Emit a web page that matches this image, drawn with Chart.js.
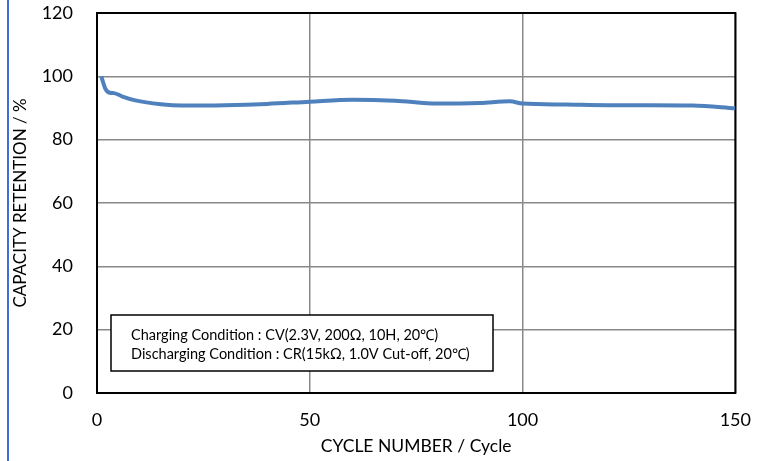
<!DOCTYPE html>
<html>
<head>
<meta charset="utf-8">
<script src="https://cdn.jsdelivr.net/npm/chart.js@4.4.1/dist/chart.umd.min.js"></script>
<style>
html,body{margin:0;padding:0;background:#fff;}
#wrap{width:767px;height:461px;position:relative;}
</style>
</head>
<body>
<div id="wrap"><canvas id="c" width="767" height="461"></canvas></div>
<script>
const cycles = [1, 2, 3, 4, 6, 9, 15, 20, 30, 40, 50, 60, 70, 80, 90, 97, 100, 110, 120, 130, 140, 150];
const retention = [100, 96.0, 94.8, 94.7, 93.6, 92.4, 91.2, 90.8, 90.9, 91.3, 92.0, 92.6, 92.3, 91.4, 91.6, 92.1, 91.4, 91.1, 90.9, 90.9, 90.8, 89.9];
const xTicks = [0, 50, 100, 150];
const yTicks = [0, 20, 40, 60, 80, 100, 120];
const xTitle = 'CYCLE NUMBER / Cycle';
const yTitle = 'CAPACITY RETENTION / %';
const noteLines = [
  'Charging Condition : CV(2.3V, 200Ω, 10H, 20℃)',
  'Discharging Condition : CR(15kΩ, 1.0V Cut-off, 20℃)'
];

const FONT = 'Lato, "Open Sans", sans-serif';

const frame = {
  id: 'frame',
  beforeDraw(chart) {
    const ctx = chart.ctx;
    ctx.save();
    ctx.fillStyle = '#fff';
    ctx.fillRect(0, 0, chart.width, chart.height);
    ctx.strokeStyle = '#3D6FD9';
    ctx.lineWidth = 2;
    ctx.beginPath();
    ctx.moveTo(8, 0); ctx.lineTo(8, chart.height);
    ctx.stroke();
    ctx.restore();
  },
  beforeDatasetsDraw(chart) {
    const a = chart.chartArea, ctx = chart.ctx;
    ctx.save();
    ctx.strokeStyle = '#000';
    ctx.lineWidth = 2;
    ctx.strokeRect(a.left, a.top, a.right - a.left, a.bottom - a.top);
    ctx.restore();
  },
  afterDatasetsDraw(chart) {
    const a = chart.chartArea, ctx = chart.ctx;
    const bx = a.left + 14, by = a.bottom - 78, bw = 382, bh = 56;
    ctx.save();
    ctx.fillStyle = '#fff';
    ctx.fillRect(bx, by, bw, bh);
    ctx.strokeStyle = '#000';
    ctx.lineWidth = 1.5;
    ctx.strokeRect(bx, by, bw, bh);
    ctx.fillStyle = '#000';
    ctx.font = '14.5px ' + FONT;
    ctx.textBaseline = 'middle';
    ctx.textAlign = 'left';
    ctx.fillText(noteLines[0], bx + 20, by + 20);
    ctx.fillText(noteLines[1], bx + 20, by + 39);
    ctx.restore();
  }
};

new Chart(document.getElementById('c'), {
  type: 'line',
  data: {
    datasets: [{
      data: cycles.map((c, i) => ({x: c, y: retention[i]})),
      borderColor: '#4F81BD',
      borderWidth: 4,
      pointRadius: 0,
      tension: 0.4,
      cubicInterpolationMode: 'monotone',
      fill: false
    }]
  },
  options: {
    responsive: false,
    animation: false,
    devicePixelRatio: 1,
    layout: {autoPadding: false, padding: {left: 0, top: 13, right: 31, bottom: 0}},
    plugins: {legend: {display: false}, tooltip: {enabled: false}},
    scales: {
      x: {
        type: 'linear', min: 0, max: 150,
        afterBuildTicks(s) { s.ticks = xTicks.map(v => ({value: v})); },
        afterFit(s) { s.height = 68; },
        grid: {color: '#898989', lineWidth: 1.5, drawTicks: false},
        border: {display: false},
        ticks: {color: '#000', font: {family: FONT, size: 18}, padding: 16, maxRotation: 0},
        title: {display: true, text: xTitle, color: '#000', font: {family: FONT, size: 17.5}, padding: {top: 0, bottom: 4}}
      },
      y: {
        min: 0, max: 120,
        afterBuildTicks(s) { s.ticks = yTicks.map(v => ({value: v})); },
        afterFit(s) { s.width = 97; },
        grid: {color: '#898989', lineWidth: 1.5, drawTicks: true, tickLength: 24, tickColor: 'rgba(0,0,0,0)'},
        border: {display: false},
        ticks: {color: '#000', font: {family: FONT, size: 18}, padding: 0},
        title: {display: true, text: yTitle, color: '#000', font: {family: FONT, size: 17}, padding: {top: 10, bottom: 0}}
      }
    }
  },
  plugins: [frame]
});
</script>
</body>
</html>
